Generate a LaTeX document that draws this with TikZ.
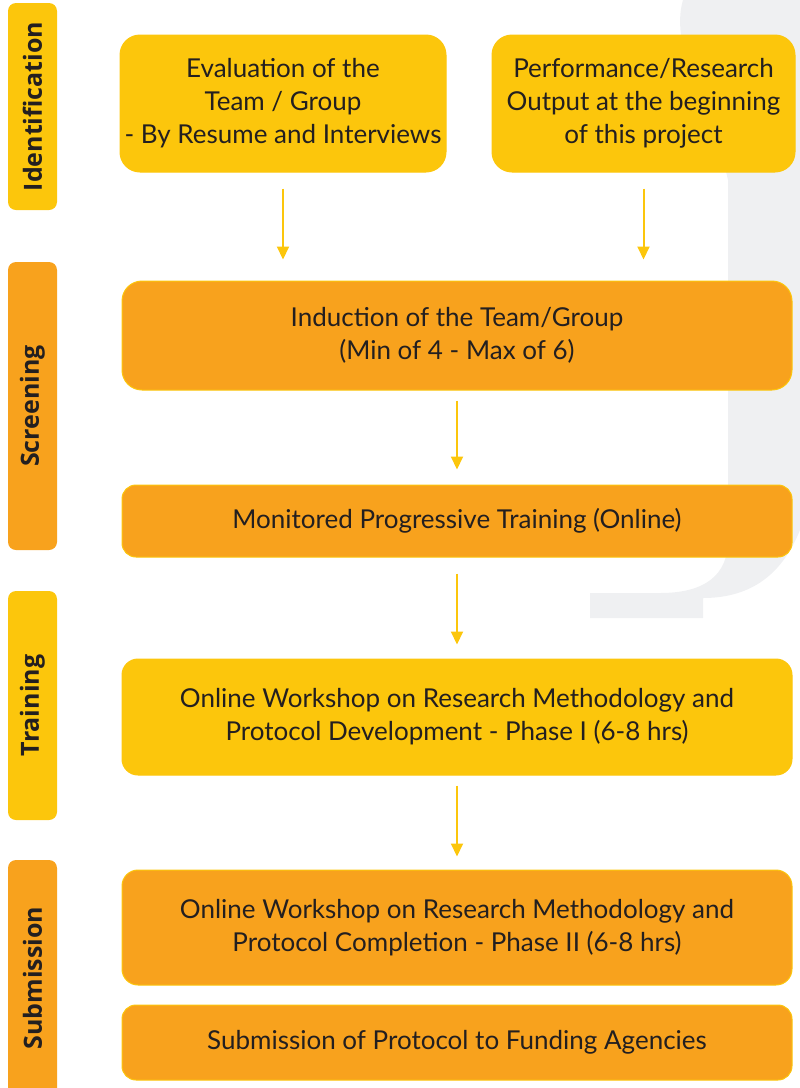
\documentclass[tikz,border=0pt]{standalone}
\usepackage{fontspec}
\setmainfont{Lato}
\newfontfamily\labfont{Open Sans}
\usetikzlibrary{arrows.meta}
\definecolor{ylw}{RGB}{252,198,12}
\definecolor{org}{RGB}{248,162,29}
\definecolor{txt}{RGB}{35,31,32}
\definecolor{wm}{RGB}{239,240,242}
\begin{document}
\begin{tikzpicture}[x=1pt,y=-1pt,
  box/.style={rounded corners=20pt, draw=ylw, line width=1pt, align=center, inner sep=0pt, text=txt, font=\fontsize{26}{33}\selectfont},
  bar/.style={rounded corners=8pt, draw=none, inner sep=0pt, minimum height=49pt, text=txt, font=\labfont\bfseries\fontsize{25}{30}\selectfont, rotate=90},
  arr/.style={draw=ylw, line width=2pt, -{Triangle[width=12pt,length=13pt]}}]
\useasboundingbox (0,0) rectangle (800,1088);
% watermark
\fill[wm] (683,0) -- (800,0) -- (800,530) .. controls (780,580) and (745,598) .. (703,598) -- (703,618) -- (590,618) -- (590,593) -- (660,593) .. controls (705,593) and (728,575) .. (728,540) -- (728,180) .. controls (715,120) and (668,50) .. (683,0) -- cycle;
% stage bars
\node[bar, fill=ylw, minimum width=207pt] (L1) at (32.5,106.5) {Identification};
\node[bar, fill=org, minimum width=288pt] (L2) at (32.5,406) {Screening};
\node[bar, fill=ylw, minimum width=229pt] (L3) at (32.5,705.5) {Training};
\node[bar, fill=org, minimum width=236pt] (L4) at (32.5,978) {Submission};
% boxes
\node[box, fill=ylw, minimum width=326pt, minimum height=137pt] (A) at (283,103.5) {Evaluation of the\\Team / Group\\- By Resume and Interviews};
\node[box, fill=ylw, minimum width=303pt, minimum height=137pt] (B) at (643.5,103.5) {Performance/Research\\Output at the beginning\\of this project};
\node[box, fill=org, minimum width=670pt, minimum height=109pt] (C) at (457,335.5) {Induction of the Team/Group\\(Min of 4 - Max of 6)};
\node[box, fill=org, rounded corners=14pt, minimum width=670pt, minimum height=72pt] (D) at (457,521) {Monitored Progressive Training (Online)};
\node[box, fill=ylw, rounded corners=16pt, minimum width=670pt, minimum height=116pt] (E) at (457,717) {Online Workshop on Research Methodology and\\Protocol Development - Phase I (6-8 hrs)};
\node[box, fill=org, rounded corners=16pt, minimum width=670pt, minimum height=115pt] (F) at (457,927.5) {Online Workshop on Research Methodology and\\Protocol Completion - Phase II (6-8 hrs)};
\node[box, fill=org, rounded corners=14pt, minimum width=670pt, minimum height=75pt] (G) at (457,1042.5) {Submission of Protocol to Funding Agencies};
% arrows
\draw[arr, shorten <=16pt, shorten >=21pt] (A.south) -- (A.south |- C.north);
\draw[arr, shorten <=16pt, shorten >=21pt] (B.south) -- (B.south |- C.north);
\draw[arr, shorten <=10pt, shorten >=15pt] (C.south) -- (D.north);
\draw[arr, shorten <=16pt, shorten >=14pt] (D.south) -- (E.north);
\draw[arr, shorten <=10pt, shorten >=13pt] (E.south) -- (F.north);
\end{tikzpicture}
\end{document}
